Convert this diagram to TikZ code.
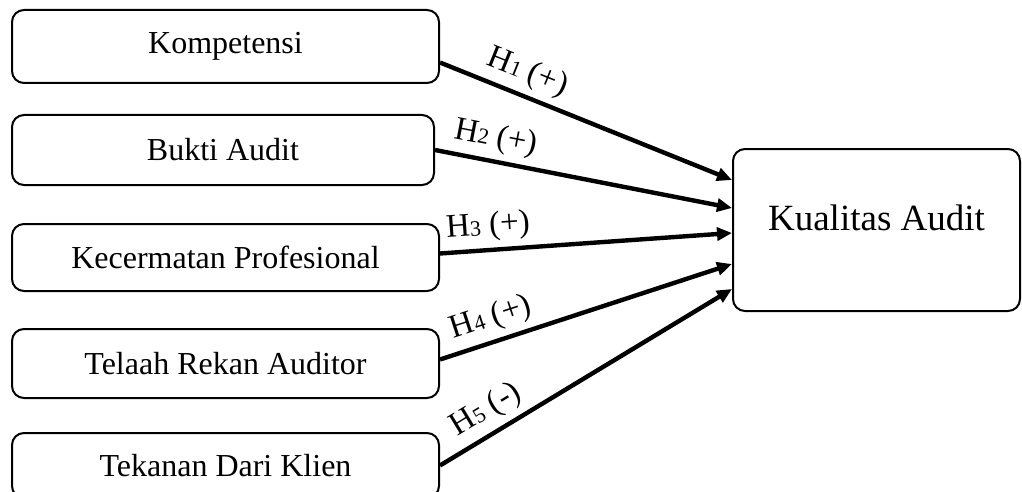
\documentclass[tikz,border=0pt]{standalone}
\usepackage{fontspec}
\setmainfont{Liberation Serif}
\usetikzlibrary{arrows.meta,positioning}

\newcommand{\hlabel}[2]{H{\fontsize{11}{12}\selectfont #1} (#2)}

\begin{document}
\begin{tikzpicture}[x=1pt, y=1pt, node distance=16pt]
    \tikzstyle{block} = [rectangle, draw, line width=1pt, rounded corners=6pt,
    minimum width=213.5pt, font=\fontsize{16}{19}\selectfont]
    \tikzstyle{arrow} = [line width=2.2pt, -{Triangle[length=7.5pt,width=6.5pt]}]
    \tikzstyle{hyp} = [sloped, above, inner sep=3pt, font=\fontsize{16.5}{19}\selectfont]

    \useasboundingbox (0,0) rectangle (511,-246);

    \node [block, minimum height=36.5pt, anchor=north west] (komp) at (5.5,-4.5) {Kompetensi};
    \node [block, minimum height=35pt, minimum width=211pt, below=15pt of komp.south west, anchor=north west] (bukti) {Bukti Audit};
    \node [block, minimum height=33.5pt, below=18.5pt of bukti.south west, anchor=north west] (cermat) {Kecermatan Profesional};
    \node [block, minimum height=34.5pt, below=18pt of cermat.south west, anchor=north west] (telaah) {Telaah Rekan Auditor};
    \node [block, minimum height=32.5pt, below=16.5pt of telaah.south west, anchor=north west] (tekanan) {Tekanan Dari Klien};

    \node [block, minimum width=143.5pt, minimum height=81pt, text height=13pt, text depth=13pt,
    font=\fontsize{18.5}{22}\selectfont] (kual) at (438.25,-115) {Kualitas Audit};

    \draw [arrow] ([yshift=-8pt]komp.east) -- ([yshift=25pt]kual.west) node [hyp, pos=0.27] {\hlabel{1}{+}};
    \draw [arrow] (bukti.east) -- ([yshift=11pt]kual.west) node [hyp, pos=0.19] {\hlabel{2}{+}};
    \draw [arrow] ([yshift=2pt]cermat.east) -- ([yshift=-1.5pt]kual.west) node [hyp, pos=0.17] {\hlabel{3}{+}};
    \draw [arrow] ([yshift=2pt]telaah.east) -- ([yshift=-17pt]kual.west) node [hyp, pos=0.2] {\hlabel{4}{+}};
    \draw [arrow] (tekanan.east) -- ([yshift=-29.5pt]kual.west) node [hyp, pos=0.2] {\hlabel{5}{-}};
\end{tikzpicture}
\end{document}
